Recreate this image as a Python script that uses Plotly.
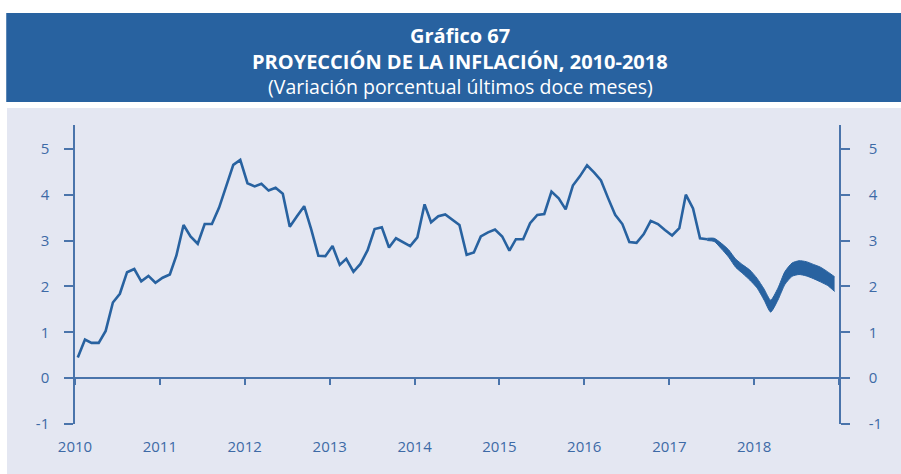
import plotly.graph_objects as go

# Inflación anual observada, mensual desde enero 2010
inflacion = [
    0.45, 0.84, 0.77, 0.77, 1.03, 1.65, 1.84, 2.31, 2.38, 2.11, 2.23, 2.08,
    2.19, 2.26, 2.67, 3.34, 3.09, 2.93, 3.36, 3.36, 3.72, 4.20, 4.65, 4.76,
    4.25, 4.18, 4.24, 4.09, 4.15, 4.02, 3.30, 3.53, 3.75, 3.25, 2.67, 2.66,
    2.88, 2.47, 2.60, 2.32, 2.49, 2.79, 3.25, 3.29, 2.85, 3.05, 2.97, 2.88,
    3.07, 3.79, 3.40, 3.53, 3.57, 3.46, 3.34, 2.69, 2.74, 3.09, 3.18, 3.24,
    3.09, 2.78, 3.03, 3.03, 3.38, 3.56, 3.58, 4.07, 3.92, 3.68, 4.20, 4.40,
    4.64, 4.48, 4.31, 3.92, 3.56, 3.36, 2.97, 2.95, 3.14, 3.43, 3.36, 3.23,
    3.11, 3.27, 4.00, 3.70, 3.05, 3.03,
]

# Banda de proyección, junio 2017 - diciembre 2018
proy_inicio = 89
proy_inf = [3.00, 2.98, 2.82, 2.64, 2.42, 2.28, 2.14, 1.97, 1.70, 1.44,
            1.70, 2.04, 2.22, 2.26, 2.23, 2.17, 2.10, 2.02, 1.89]
proy_sup = [3.05, 3.05, 2.94, 2.80, 2.60, 2.47, 2.36, 2.18, 1.94, 1.70,
            1.96, 2.32, 2.51, 2.56, 2.54, 2.48, 2.42, 2.32, 2.21]

# Rango meta
meta = [1, 3]

y_rango = [-1, 5.52]
x_rango = ["2010-01-01", "2019-01-01"]
y_ticks = [-1, 0, 1, 2, 3, 4, 5]
y_etiquetas = ["-1", "0", "1", "2", "3", "4", "5"]
anios = [2010, 2011, 2012, 2013, 2014, 2015, 2016, 2017, 2018]


def fecha(i):
    return f"{2010 + i // 12}-{i % 12 + 1:02d}-13"


x_hist = [fecha(i) for i in range(len(inflacion))]
x_proy = [fecha(proy_inicio + i) for i in range(len(proy_inf))]

AZUL = "#2862a0"
EJE = "#4a74ab"
TEXTO = "#3d6aa6"
FONDO = "#e4e7f2"
GUIA = "#93a6ca"
FUENTE = "Open Sans"

fig = go.Figure()

fig.add_trace(go.Scatter(
    x=x_proy, y=proy_sup, mode="lines",
    line=dict(color=AZUL, width=1, shape="spline", smoothing=0.6),
    hoverinfo="skip", showlegend=False,
))
fig.add_trace(go.Scatter(
    x=x_proy, y=proy_inf, mode="lines", fill="tonexty", fillcolor=AZUL,
    line=dict(color=AZUL, width=1, shape="spline", smoothing=0.6),
    hoverinfo="skip", showlegend=False,
))
fig.add_trace(go.Scatter(
    x=x_hist, y=inflacion, mode="lines",
    line=dict(color=AZUL, width=2.6),
    showlegend=False,
))
# Traza vacía que activa los ejes secundarios (eje derecho y línea del cero)
fig.add_trace(go.Scatter(
    x=[x_rango[0]], y=[None], xaxis="x2", yaxis="y2",
    mode="lines", showlegend=False, hoverinfo="skip",
))

for nivel in meta:
    fig.add_hline(y=nivel, line=dict(color=GUIA, width=2, dash="8px,7px"),
                  layer="below")

# Fondo del panel y recuadro del título
fig.add_shape(type="rect", xref="paper", yref="paper",
              x0=-0.089, x1=1.09, y0=-0.2, y1=1.0569,
              fillcolor=FONDO, line_width=0, layer="below")
fig.add_shape(type="rect", xref="paper", yref="paper",
              x0=-0.090, x1=1.09, y0=1.0769, y1=1.3746,
              fillcolor=AZUL, line_width=0, layer="below")

titulos = [
    ("<b>Gráfico 67</b>", 1.3010, 20),
    ("<b>PROYECCIÓN DE LA INFLACIÓN, 2010-2018</b>", 1.2140, 20),
    ("(Variación porcentual últimos doce meses)", 1.1271, 19.5),
]
for texto, yy, tam in titulos:
    fig.add_annotation(text=texto, xref="paper", yref="paper",
                       x=0.504, y=yy, xanchor="center", yanchor="middle",
                       showarrow=False,
                       font=dict(family=FUENTE, size=tam, color="white"))

eje_y = dict(
    range=y_rango, tickvals=y_ticks, ticktext=y_etiquetas,
    showgrid=False, zeroline=False,
    showline=True, linecolor=EJE, linewidth=1.5,
    ticks="outside", ticklen=9, tickwidth=1.5, tickcolor=EJE,
    tickfont=dict(family=FUENTE, size=15, color=TEXTO),
)

fig.update_layout(
    width=901, height=474,
    margin=dict(l=75, r=62, t=125, b=50),
    paper_bgcolor="white", plot_bgcolor=FONDO,
    font=dict(family=FUENTE, color=TEXTO),
    xaxis=dict(
        range=x_rango, type="date",
        tickvals=[f"{a}-01-01" for a in anios],
        ticktext=[str(a) for a in anios],
        showgrid=False, zeroline=False, showline=False,
        ticks="", ticklabelstandoff=12,
        tickfont=dict(family=FUENTE, size=15, color=TEXTO),
    ),
    xaxis2=dict(
        range=x_rango, type="date", dtick="M12", tick0="2010-01-01",
        overlaying="x", anchor="free",
        position=(0 - y_rango[0]) / (y_rango[1] - y_rango[0]),
        showgrid=False, zeroline=False, showline=True,
        linecolor=EJE, linewidth=1.5,
        ticks="outside", ticklen=6, tickwidth=1.5, tickcolor=EJE,
        showticklabels=False,
    ),
    yaxis=dict(side="left", ticklabelstandoff=12, **eje_y),
    yaxis2=dict(side="right", overlaying="y", anchor="x",
                ticklabelstandoff=16, **eje_y),
)

fig.write_html("out.html")
